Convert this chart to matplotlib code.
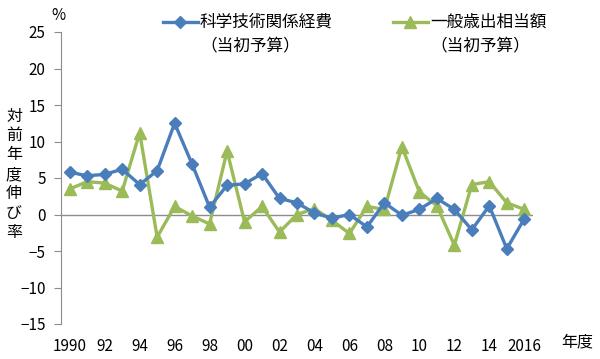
import matplotlib
matplotlib.use("Agg")
import matplotlib.pyplot as plt
from matplotlib.lines import Line2D

plt.rcParams['font.family'] = ['Noto Sans CJK JP', 'DejaVu Sans']

years = list(range(1990, 2017))
science = [5.8, 5.3, 5.5, 6.2, 4.1, 6.0, 12.5, 6.9, 1.0, 4.0, 4.2, 5.6, 2.2, 1.6, 0.2,
           -0.5, 0.0, -1.7, 1.6, -0.1, 0.7, 2.2, 0.7, -2.1, 1.2, -4.7, -0.6]
general = [3.5, 4.5, 4.3, 3.2, 11.2, -3.1, 1.1, -0.2, -1.3, 8.7, -1.0, 1.1, -2.4, 0.0, 0.8,
           -0.8, -2.6, 1.1, 0.7, 9.3, 3.1, 1.2, -4.2, 4.1, 4.5, 1.6, 0.7]
xtick_labels = ['1990', '92', '94', '96', '98', '00', '02', '04', '06', '08', '10', '12', '14', '2016']
yticks = [25, 20, 15, 10, 5, 0, -5, -10, -15]
legend_labels = ['科学技術関係経費\n（当初予算）', '一般歳出相当額\n（当初予算）']

blue = '#4A7EBB'
green = '#9BBB59'

fig = plt.figure(figsize=(6.0, 3.59), dpi=100)
ax = fig.add_axes([61/600, 1 - 324/359, (533-61)/600, (324-32)/359])

idx = list(range(len(years)))
ax.plot(idx, science, color=blue, lw=2.4, marker='D', ms=6.5, zorder=3)
ax.plot(idx, general, color=green, lw=2.4, marker='^', ms=8, zorder=2)

ax.axhline(0, color='#8c8c8c', lw=1, zorder=1)
ax.set_xlim(-0.5, len(years) - 0.5)
ax.set_ylim(-15, 25)
ax.set_yticks(yticks)
ax.set_yticklabels([str(v).replace('-', '−') for v in yticks], fontsize=11)
ax.tick_params(axis='y', direction='out', length=5, color='#8c8c8c', pad=6)
ax.set_xticks(idx[::2])
ax.set_xticklabels(xtick_labels, fontsize=11)
ax.tick_params(axis='x', length=0, pad=10)
for s in ['top', 'right', 'bottom']:
    ax.spines[s].set_visible(False)
ax.spines['left'].set_color('#8c8c8c')

fig.text(58/600, 1 - 16/359, '%', fontsize=11, ha='center', va='center')
fig.text(577/600, 1 - 342/359, '年度', fontsize=11.5, ha='center', va='center')
ylab = '対前年度伸び率'
for i, ch in enumerate(ylab):
    fig.text(14/600, 1 - (116 + i*19.5)/359, ch, fontsize=11.5, ha='center', va='center')

# legend
fig.add_artist(Line2D([163/600, 198/600], [1 - 22/359]*2, color=blue, lw=2.4, transform=fig.transFigure))
fig.add_artist(Line2D([180/600], [1 - 22/359], color=blue, marker='D', ms=6.5, transform=fig.transFigure))
fig.text(200/600, 1 - 34/359, legend_labels[0], fontsize=12, ha='left', va='center', linespacing=1.45)
fig.add_artist(Line2D([393/600, 428/600], [1 - 22/359]*2, color=green, lw=2.4, transform=fig.transFigure))
fig.add_artist(Line2D([410/600], [1 - 22/359], color=green, marker='^', ms=8, transform=fig.transFigure))
fig.text(430/600, 1 - 34/359, legend_labels[1], fontsize=12, ha='left', va='center', linespacing=1.45)

fig.savefig('out.png', dpi=100)
